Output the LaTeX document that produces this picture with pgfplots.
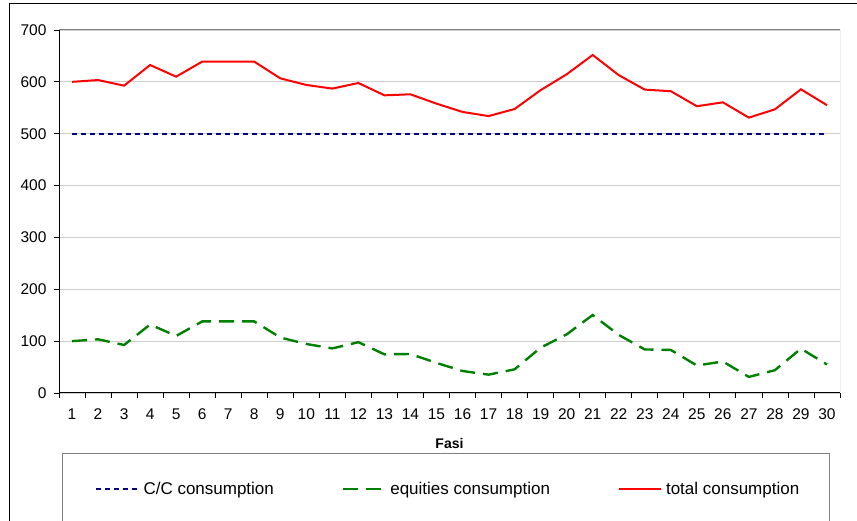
\documentclass[border=0pt]{standalone}
\usepackage{fontspec}
\setmainfont{Liberation Sans}
\usepackage{pgfplots}
\pgfplotsset{compat=1.18}

\definecolor{ccblue}{RGB}{0,0,128}
\definecolor{eqgreen}{RGB}{0,128,0}
\definecolor{totred}{RGB}{255,0,0}
\definecolor{gridgray}{RGB}{205,205,205}

\pgfplotstableread{
x cc eq tot
1 500 100 600
2 500 103.5 603.5
3 500 92.6 592.6
4 500 132 632.5
5 500 110 610
6 500 138 639
7 500 138 639
8 500 138 639
9 500 107 606.8
10 500 94.5 594
11 500 86 587
12 500 98 597.8
13 500 74.6 574
14 500 75.2 576
15 500 58 558
16 500 42.4 542
17 500 35.4 534
18 500 45.6 547.6
19 500 87.4 584
20 500 113 614.5
21 500 150.4 651.8
22 500 112 613
23 500 84 585
24 500 83 582
25 500 53 553
26 500 60.7 560.5
27 500 31 531
28 500 44 547
29 500 85.5 585.6
30 500 55 555
}\consumption

\begin{document}
\begin{tikzpicture}[x=1pt,y=1pt]
\begin{axis}[
  at={(59pt,128pt)}, anchor=south west,
  scale only axis, width=781pt, height=363pt,
  xmin=0.5, xmax=30.5, ymin=0, ymax=700,
  axis x line*=bottom, axis y line*=left,
  axis line style={black, line width=1pt},
  ytick={0,100,...,700},
  yticklabel style={xshift=-4pt},
  xtick={0.5,1.5,...,30.5},
  x tick label as interval,
  xticklabels={1,2,3,4,5,6,7,8,9,10,11,12,13,14,15,16,17,18,19,20,21,22,23,24,25,26,27,28,29,30},
  xticklabel style={yshift=-7pt},
  tick align=outside, major tick length=5pt,
  tick style={black, line width=0.8pt},
  ymajorgrids, grid style={gridgray, line width=0.8pt},
  ticklabel style={font=\fontsize{15.5}{18}\selectfont},
  /pgf/number format/assume math mode=true,
  xlabel={\textbf{Fasi}},
  xlabel style={font=\fontsize{14}{16}\selectfont, at={(axis description cs:0.5,-0.138)}, anchor=center},
  legend image code/.code={\draw[#1] (0pt,0pt) -- (42pt,0pt);},
  legend columns=3,
  legend style={draw=none, fill=none, at={(axis description cs:0.046,-0.2645)}, anchor=west,
    font=\fontsize{17}{20}\selectfont, inner sep=0pt,
    /tikz/every odd column/.append style={column sep=2pt},
    /tikz/every even column/.append style={column sep=66pt}},
]
\draw[gray, line width=1pt] (rel axis cs:0,1) -- (rel axis cs:1,1) -- (rel axis cs:1,0);
\addplot[ccblue, line width=2.4pt, dash pattern=on 5pt off 4pt] table[x=x,y=cc] {\consumption};
\addlegendentry{C/C consumption}
\addplot[eqgreen, line width=2.4pt, dash pattern=on 15pt off 8pt] table[x=x,y=eq] {\consumption};
\addlegendentry{equities consumption}
\addplot[totred, line width=2pt] table[x=x,y=tot] {\consumption};
\addlegendentry{total consumption}
\end{axis}
\draw[black, line width=1pt] (9,0) -- (9,517) -- (857,517);
\draw[gray, line width=1pt] (62,0) -- (62,67) -- (829,67) -- (829,0);
\pgfresetboundingbox
\useasboundingbox (0,0) rectangle (857,521);
\end{tikzpicture}
\end{document}
